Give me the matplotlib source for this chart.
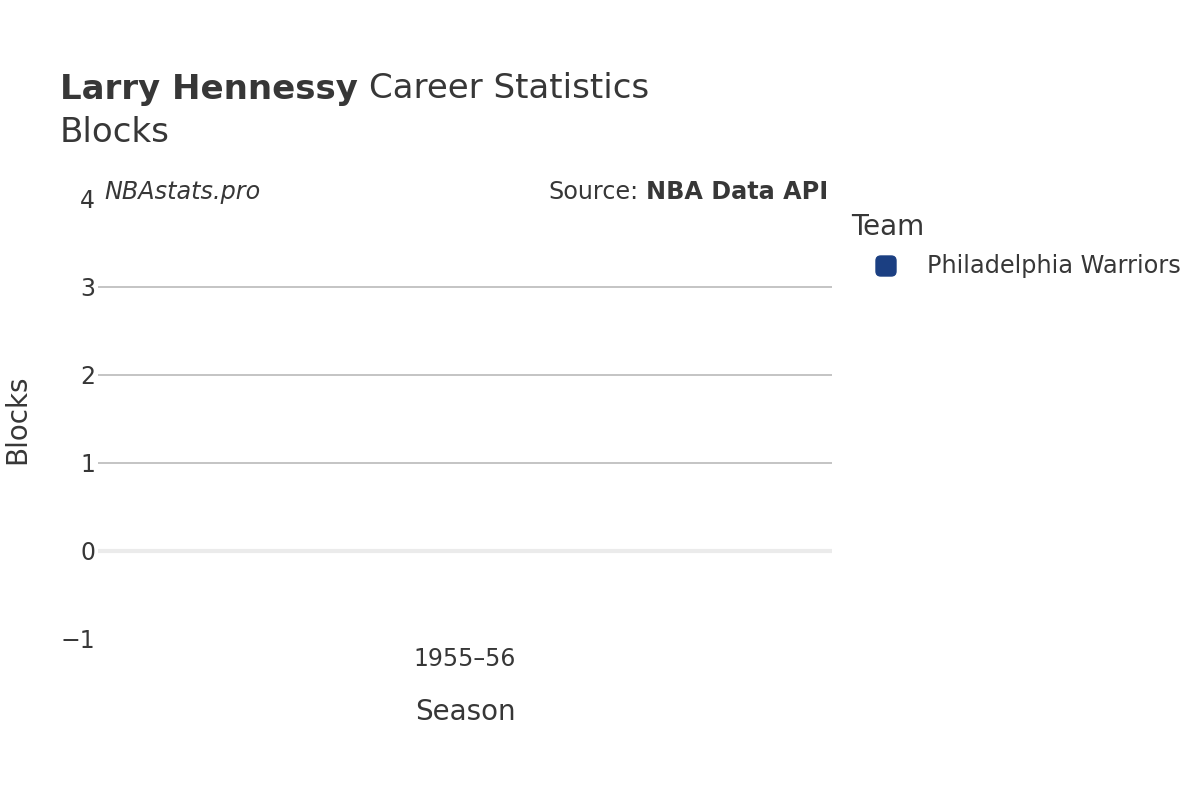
import matplotlib.pyplot as plt
from matplotlib.patches import FancyBboxPatch

seasons = ['1955–56']
blocks = [0]
team = 'Philadelphia Warriors'
team_color = '#1b3f82'
yticks = [-1, 0, 1, 2, 3, 4]
ytick_labels = ['−1', '0', '1', '2', '3', '4']

txt = '#373737'
plt.rcParams['font.family'] = ['DejaVu Sans']

W, H = 1200, 800
fig = plt.figure(figsize=(12, 8), dpi=100)
ax = fig.add_axes([98 / W, 1 - 639 / H, (832 - 98) / W, (639 - 199) / H])

ax.bar(range(len(seasons)), blocks, width=0.8, color=team_color)
ax.set_xlim(-0.5, len(seasons) - 0.5)
ax.set_ylim(-1, 4)

for v in [1, 2, 3]:
  ax.axhline(v, color='#bfbfbf', lw=1.3, zorder=0)
ax.axhline(0, color='#ebebeb', lw=3, zorder=0)

ax.set_yticks(yticks)
ax.set_yticklabels(ytick_labels)
ax.set_xticks(range(len(seasons)))
ax.set_xticklabels(seasons)
ax.tick_params(axis='both', length=0, labelsize=17, colors=txt)
ax.tick_params(axis='y', pad=2)
ax.tick_params(axis='x', pad=5.5)
for s in ax.spines.values():
  s.set_visible(False)

ax.set_xlabel('Season', fontsize=20, color=txt)
ax.xaxis.set_label_coords(0.5, (639 - 712) / 440)
ax.xaxis.label.set_va('center')
ax.set_ylabel('Blocks', fontsize=20, color=txt)
ax.yaxis.set_label_coords((17 - 98) / 734, 0.5)
ax.yaxis.label.set_va('center')

# title
t1 = fig.text(60 / W, 1 - 89 / H, 'Larry Hennessy', fontsize=24.5, color=txt,
              va='center', fontweight='bold')
fig.canvas.draw()
bb = t1.get_window_extent()
fig.text((bb.x1 + 11) / W, 1 - 89 / H, 'Career Statistics', fontsize=24.5, color=txt, va='center')
fig.text(60 / W, 1 - 132 / H, 'Blocks', fontsize=24.5, color=txt, va='center')

fig.text(104 / W, 1 - 192 / H, 'NBAstats.pro', fontsize=17.2, color=txt,
         style='italic', va='center')
s2 = fig.text(828 / W, 1 - 192 / H, 'NBA Data API', fontsize=17.2, color=txt,
              fontweight='bold', va='center', ha='right')
fig.canvas.draw()
bb2 = s2.get_window_extent()
fig.text((bb2.x0 - 7) / W, 1 - 192 / H, 'Source:', fontsize=17.2, color=txt,
         va='center', ha='right')

# legend
fig.text(851 / W, 1 - 227 / H, 'Team', fontsize=20, color=txt, va='center')
fig.patches.append(FancyBboxPatch((876 / W, 1 - 276 / H), 20 / W, 20 / H,
                                  boxstyle='round,pad=0,rounding_size=0.004',
                                  transform=fig.transFigure, facecolor=team_color,
                                  edgecolor=team_color, mutation_aspect=1.5))
fig.text(927 / W, 1 - 266 / H, team, fontsize=17.3, color=txt, va='center')

fig.savefig('out.png', dpi=100, facecolor='white')
